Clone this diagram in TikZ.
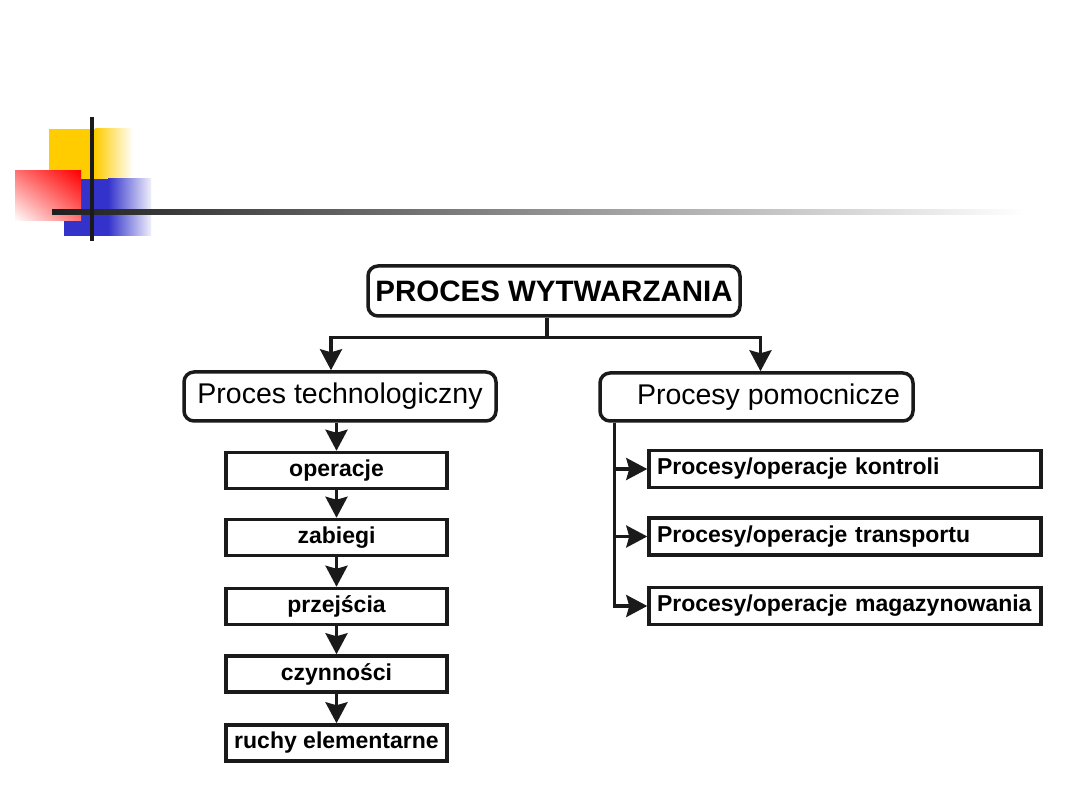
\documentclass[tikz,border=0pt]{standalone}
\usepackage{fontspec}
\setmainfont{Liberation Sans}
\usetikzlibrary{arrows.meta,shadings}
\definecolor{ink}{HTML}{1A1A1A}
\definecolor{yel}{HTML}{FFCC00}
\definecolor{blu}{HTML}{3333CC}
\tikzset{
  rbox/.style={draw=ink, line width=3.5pt, rounded corners=10pt, inner sep=0pt, font=\fontsize{28.5}{30}\selectfont},
  sbox/.style={draw=ink, line width=3.5pt, inner sep=0pt, minimum width=221pt, minimum height=36pt, font=\bfseries\fontsize{23}{25}\selectfont},
  wbox/.style={draw=ink, line width=3.5pt, inner xsep=8pt, inner ysep=0pt, text width=376pt, align=left, minimum height=37pt, font=\bfseries\fontsize{23}{25}\selectfont},
  conn/.style={draw=ink, line width=3.2pt},
  arr/.style={conn, -{Stealth[length=21pt, width=22pt, inset=3pt]}},
}
\begin{document}
\begin{tikzpicture}[x=1pt, y=-1pt]
\useasboundingbox (0,0) rectangle (1080,810);
\fill[white] (0,0) rectangle (1080,810);
% decoration
\fill[yel] (49,129) rectangle (95,179);
\shade[left color=yel, right color=white] (95,129) rectangle (133,179);
\fill[blu] (64,179) rectangle (108,236);
\shade[left color=blu, right color=blu!8] (108,179) rectangle (151,236);
\shade[upper right=red, lower left=white, upper left=red!55, lower right=red!55] (15,171) rectangle (81,221);
\shade[left color=black!88, right color=white] (52,210) rectangle (1025,215);
\fill[ink] (90,117) rectangle (94,241);
% nodes
\node[rbox, minimum width=372pt, minimum height=50pt, font=\bfseries\fontsize{29.5}{31}\selectfont] (pw) at (554,291) {PROCES WYTWARZANIA};
\node[rbox, minimum width=312pt, minimum height=49pt] (pt) at (340,396.5) {Proces technologiczny};
\node[rbox, minimum width=313pt, minimum height=48pt] (pp) at (756.5,397) {\hspace*{24pt}Procesy pomocnicze};
\node[sbox] (op) at (336.5,470.5) {operacje};
\node[sbox] (za) at (336.5,537.5) {zabiegi};
\node[sbox] (pr) at (336.5,606.5) {przejścia};
\node[sbox] (cz) at (336.5,674) {czynności};
\node[sbox] (ru) at (336.5,743) {ruchy elementarne};
\node[wbox] (ko) at (845,469) {\mbox{Procesy/operacje kontroli}};
\node[wbox] (tr) at (845,536.5) {\mbox{Procesy/operacje transportu}};
\node[wbox] (ma) at (845,606) {\mbox{Procesy/operacje magazynowania}};
% connectors
\coordinate (j) at ([xshift=-7pt, yshift=-20pt]pw.south);
\draw[conn] ([xshift=-7pt]pw.south) -- (j);
\draw[arr] (j) -| ([xshift=-9pt]pt.north);
\draw[arr] (j) -| ([xshift=4pt]pp.north);
\draw[arr] (op.north |- pt.south) -- (op.north);
\draw[arr] (op) -- (za);
\draw[arr] (za) -- (pr);
\draw[arr] (pr) -- (cz);
\draw[arr] (cz) -- (ru);
\coordinate (r) at ([xshift=16pt]pp.south west);
\draw[arr] (r) |- (ko.west);
\draw[arr] (r) |- (tr.west);
\draw[arr] (r) |- (ma.west);
\end{tikzpicture}
\end{document}
